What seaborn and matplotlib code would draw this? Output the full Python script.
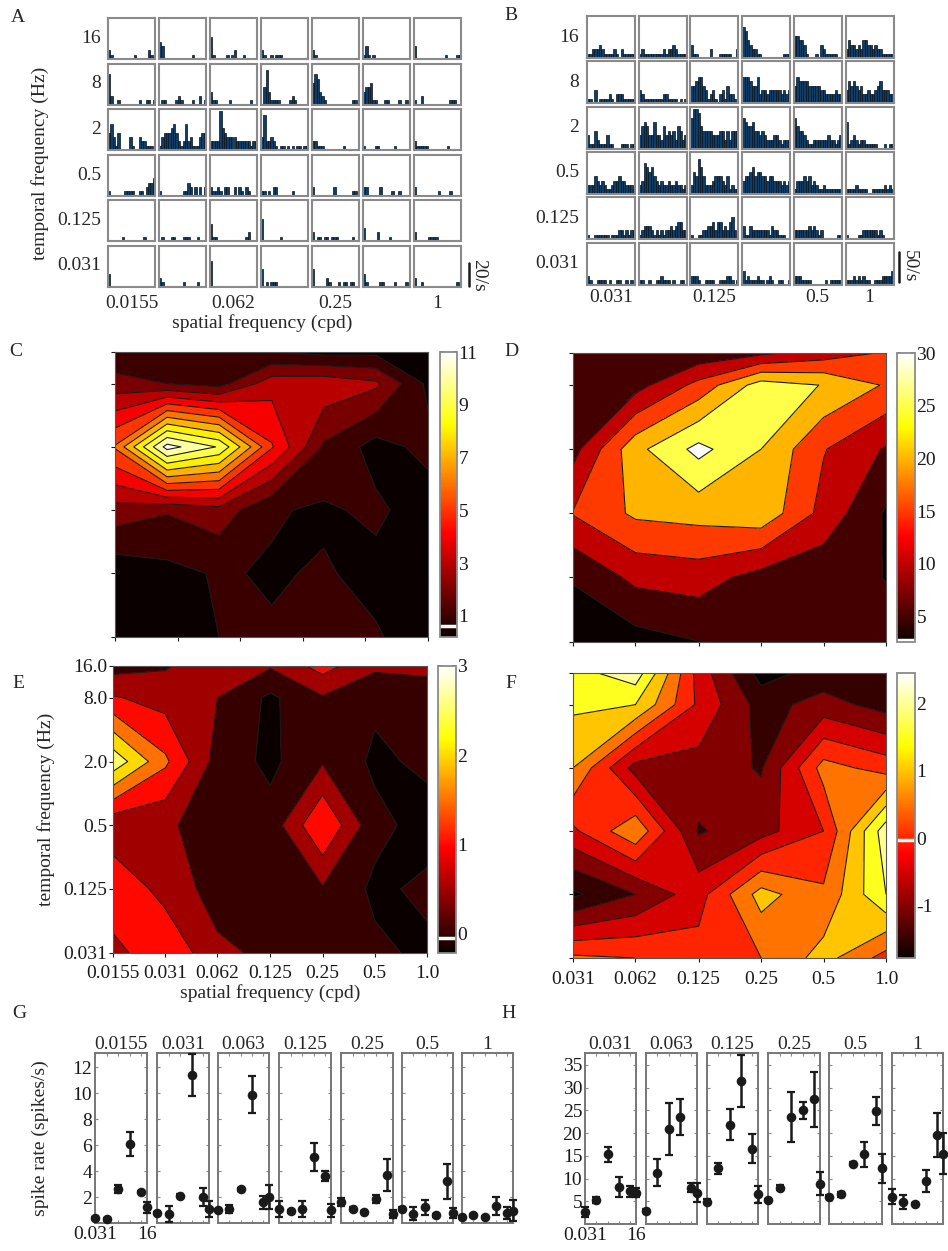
import numpy as np
import matplotlib
matplotlib.use("Agg")
import matplotlib.pyplot as plt
import seaborn as sns
from matplotlib.colors import Normalize
from matplotlib.cm import ScalarMappable
from matplotlib.ticker import MultipleLocator

sns.set_theme(style="white")
plt.rcParams["font.family"] = ["Liberation Serif", "DejaVu Serif"]
plt.rcParams["font.size"] = 14
plt.rcParams["axes.unicode_minus"] = False
plt.rcParams["contour.negative_linestyle"] = "solid"

# ---------------- data ----------------
TF = [0.031, 0.125, 0.5, 2, 8, 16]                 # temporal frequencies (Hz), ascending
TF_ROW_LABELS = ["16", "8", "2", "0.5", "0.125", "0.031"]   # rows top -> bottom
SF_A = [0.0155, 0.031, 0.062, 0.125, 0.25, 0.5, 1.0]
SF_B = [0.031, 0.062, 0.125, 0.25, 0.5, 1.0]
SF_A_LABELS = ["0.0155", "0.031", "0.062", "0.125", "0.25", "0.5", "1.0"]
SF_B_LABELS = ["0.031", "0.062", "0.125", "0.25", "0.5", "1.0"]
A_XLABELS = {0: "0.0155", 2: "0.062", 4: "0.25", 6: "1"}
B_XLABELS = {0: "0.031", 2: "0.125", 4: "0.5", 5: "1"}
G_TITLES = ["0.0155", "0.031", "0.063", "0.125", "0.25", "0.5", "1"]
H_TITLES = ["0.031", "0.063", "0.125", "0.25", "0.5", "1"]

# PSTH bin heights (digit units), rows = TF 16 -> 0.031, columns = SF
A_UNIT = 3.8   # spikes/s per digit
B_UNIT = 7.4
A_PSTH = [
    ["21000000000100000210", "43000000000000100000", "51000001012000100000", "21001011100000000000",
     "21000000000000000000", "13101000000000000000", "30000000000001000011"],
    ["72001000000001001101", "01100001210000100201", "31100000100000000100", "04831111000012100000",
     "57632100000000000110", "34451100011000010010", "10020000000000011100"],
    ["46314000031003221110", "13444564212623111344", "22229543333222222122", "38223210110101011011",
     "22111000000001000000", "10000110000001000000", "21111100000000100000"],
    ["10000001111001102334", "10000000001132020202", "21121022002021021000", "11010220000001000000",
     "20000000020000000110", "22000002000010010000", "20000000001000010000"],
    ["00000010000000010000", "01000110001110001000", "41100000000000012000", "50000000100000000000",
     "20110110111000000100", "30000020000100000000", "20000011110000000000"],
    ["30000000000000000000", "21000000001000001000", "60000000000000000000", "40101110000000000000",
     "40000021000101101100", "31000001100001000010", "20010000000000000010"],
]
B_PSTH = [
    ["11222321111210211111", "12111111112122321111", "31100000200011111002", "76432211000000000111",
     "55443100010321111100", "24332324433232211111"],
    ["11030111121022211111", "32111111112211110101", "44566431231023142210", "66654462332333332323",
     "46555544444332222322", "35454342232234533322"],
    ["31142111311000111011", "35653363325343425423", "79985444433344242444", "76556443432223321222",
     "75443211222222322123", "61232122111110001011"],
    ["22243232112334332221", "23765643232232232212", "25486422234443241211", "34456455443443332323",
     "13334342321121111111", "11112111100111112121"],
    ["10011111101112212122", "12333212121223234422", "10011223342442324520", "31132222222132211100",
     "22222232321200000011", "10000112222221210000"],
    ["21001111010011001010", "11001001121110100110", "22210011110011122101", "31211121101210011001",
     "22211110000001011111", "11121212110011122223"],
]

# mean spike rates (rows = SF, columns = TF ascending) and error half-widths
G_MEAN = [
    [0.38, 0.30, 2.6, 6.1, 2.4, 1.2],
    [0.77, 0.70, 2.1, 11.4, 2.0, 1.1],
    [1.0, 1.1, 2.6, 9.9, 1.6, 2.0],
    [1.1, 0.9, 1.1, 5.1, 3.6, 1.0],
    [1.6, 1.1, 0.85, 1.85, 3.7, 0.7],
    [1.1, 0.7, 1.2, 0.6, 3.2, 0.75],
    [0.45, 0.6, 0.46, 1.3, 0.77, 0.95],
]
G_ERR = [
    [0.1, 0.1, 0.3, 0.9, 0.1, 0.4],
    [0.1, 0.6, 0.1, 1.6, 0.7, 0.6],
    [0.1, 0.3, 0.1, 1.4, 0.5, 0.9],
    [0.6, 0.1, 0.6, 1.1, 0.4, 0.5],
    [0.3, 0.1, 0.1, 0.3, 1.2, 0.3],
    [0.1, 0.5, 0.6, 0.1, 1.35, 0.4],
    [0.1, 0.1, 0.1, 0.7, 0.5, 0.8],
]
H_MEAN = [
    [2.6, 5.3, 15.3, 8.2, 7.2, 6.9],
    [2.9, 11.3, 20.9, 23.5, 8.0, 6.9],
    [4.9, 12.3, 21.8, 31.5, 16.6, 6.5],
    [5.3, 8.0, 23.6, 25.0, 27.4, 8.9],
    [6.0, 6.5, 13.3, 15.3, 24.8, 12.3],
    [6.0, 4.9, 4.4, 9.5, 19.5, 15.5],
]
H_ERR = [
    [1.1, 0.6, 1.6, 2.2, 1.2, 1.0],
    [0.3, 2.9, 5.7, 3.9, 1.0, 2.1],
    [0.6, 1.2, 3.4, 5.7, 3.1, 1.8],
    [0.3, 0.5, 5.5, 1.9, 6.0, 2.6],
    [0.3, 0.5, 0.3, 2.7, 3.1, 3.2],
    [1.6, 1.5, 0.3, 2.4, 4.8, 4.5],
]
# E and F grids: rows = TF 16 -> 0.031, columns = SF ascending
E_GRID = [
    [0.3, 0.45, 0.8, 0.55, 1.2, 0.6, 0.6],
    [1.05, 0.8, 0.5, -0.1, 0.45, 0.1, 0.3],
    [2.85, 1.6, 0.3, -0.12, 0.45, -0.1, 0.1],
    [0.6, 0.6, 0.2, 0.2, 1.5, 0.15, -0.2],
    [1.45, 0.8, 0.3, 0.2, 0.45, -0.1, 0.1],
    [0.8, 1.45, 0.6, 0.4, 0.2, 0.1, -0.1],
]
F_GRID = [
    [1.8, 2.3, -0.2, -1.7, -1.3, -1.45],
    [1.6, 1.5, -0.1, -1.2, -0.8, -1.2],
    [1.0, -0.7, -0.7, -1.05, 0.7, 0.3],
    [-0.1, 0.9, -1.05, -0.7, 0.0, 2.3],
    [-1.6, -1.0, -0.2, 1.2, 0.6, 2.0],
    [0.6, 0.5, 0.2, 0.5, 1.2, 0.3],
]

# ---------------- figure ----------------
W, H = 948, 1251
fig = plt.figure(figsize=(W / 100, H / 100), dpi=100)


def px_axes(x0, y0, x1, y1):
    return fig.add_axes([x0 / W, 1 - y1 / H, (x1 - x0) / W, (y1 - y0) / H])


def ftext(x, y, s, **kw):
    fig.text(x / W, 1 - y / H, s, **kw)


BAR_FACE = "#0f3d66"
BAR_EDGE = "#05121f"
FRAME = "#8a8a8a"


def psth_cell(ax, s, unit):
    s = s.ljust(20, "0")[:20]
    h = np.array([int(c) for c in s], float) * unit
    sns.barplot(x=np.arange(len(h)), y=h, ax=ax, color=BAR_FACE, width=1.0,
                edgecolor=BAR_EDGE, linewidth=0.5, saturation=1)
    ax.set_xlim(-0.5, len(h) - 0.5)
    ax.set_ylim(0, 9.5 * unit)
    ax.set_xticks([])
    ax.set_yticks([])
    ax.set_xlabel("")
    ax.set_ylabel("")
    for sp in ax.spines.values():
        sp.set_color(FRAME)
        sp.set_linewidth(1.5)


def psth_grid(data, unit, x_start, dx, cw, y_start, dy, ch):
    axes = []
    for i, row in enumerate(data):
        arow = []
        for j, s in enumerate(row):
            x0 = x_start + j * dx
            y0 = y_start + i * dy
            ax = px_axes(x0, y0, x0 + cw, y0 + ch)
            psth_cell(ax, s, unit)
            arow.append(ax)
        axes.append(arow)
    return axes


# Panel A
A_x0, A_dx, A_cw, A_y0, A_dy, A_ch = 108, 51, 47, 18, 45.5, 41
axA = psth_grid(A_PSTH, A_UNIT, A_x0, A_dx, A_cw, A_y0, A_dy, A_ch)
for i, lab in enumerate(TF_ROW_LABELS):
    ftext(101, A_y0 + i * A_dy + A_ch / 2, lab, ha="right", va="center", fontsize=14)
for j, lab in A_XLABELS.items():
    ftext(A_x0 + j * A_dx + A_cw / 2, 304, lab, ha="center", va="center", fontsize=14)
ftext(262, 323, "spatial frequency (cpd)", ha="center", va="center", fontsize=14)
ftext(40, 163, "temporal frequency (Hz)", ha="center", va="center", rotation=90, fontsize=14)
last = axA[-1][-1]
last.plot([1.17, 1.17], [0.5, 20.5], transform=last.get_yaxis_transform(), color="k", lw=1.8, clip_on=False)
last.text(1.38, 10, "20/s", transform=last.get_yaxis_transform(), rotation=270,
          ha="center", va="center", fontsize=14)

# Panel B
B_x0, B_dx, B_cw, B_y0, B_dy, B_ch = 587, 51.7, 48, 16, 45.3, 42
axB = psth_grid(B_PSTH, B_UNIT, B_x0, B_dx, B_cw, B_y0, B_dy, B_ch)
for i, lab in enumerate(TF_ROW_LABELS):
    ftext(579, B_y0 + i * B_dy + B_ch / 2, lab, ha="right", va="center", fontsize=14)
for j, lab in B_XLABELS.items():
    ftext(B_x0 + j * B_dx + B_cw / 2, 298, lab, ha="center", va="center", fontsize=14)
last = axB[-1][-1]
last.plot([1.12, 1.12], [5, 55], transform=last.get_yaxis_transform(), color="k", lw=1.8, clip_on=False)
last.text(1.33, 30, "50/s", transform=last.get_yaxis_transform(), rotation=270,
          ha="center", va="center", fontsize=14)


# ---------------- contour panels ----------------
def contour_panel(ax, cax, sf, Z, vmin, vmax, levels, cb_ticks, cb_minor, white_at,
                  xticks, xticklabels, yticklabels):
    X = np.log2(sf)
    Y = np.log2(TF)
    cmap = plt.get_cmap("hot")
    norm = Normalize(vmin, vmax)
    cols = [cmap(norm(max(l, vmin))) for l in levels[:-1]]
    ax.contourf(X, Y, Z, levels=levels, colors=cols)
    ax.contour(X, Y, Z, levels=levels[1:-1], colors="k", linewidths=0.8, linestyles="solid")
    ax.set_xlim(X[0], X[-1])
    ax.set_ylim(Y[0], Y[-1])
    ax.set_xticks(xticks)
    ax.set_yticks(Y)
    ax.set_xticklabels(xticklabels if xticklabels else [""] * len(xticks), fontsize=14)
    ax.set_yticklabels(yticklabels if yticklabels else [""] * len(Y), fontsize=14)
    ax.tick_params(direction="out", length=3, width=0.8, pad=1, colors="k",
                   left=True, bottom=True)
    if xticklabels:
        ax.tick_params(axis="x", pad=6)
    for sp in ax.spines.values():
        sp.set_color("#555555")
        sp.set_linewidth(0.8)
    sm = ScalarMappable(norm=norm, cmap=cmap)
    cb = fig.colorbar(sm, cax=cax, ticks=cb_ticks)
    cb.outline.set_edgecolor(FRAME)
    cb.outline.set_linewidth(1.3)
    cax.yaxis.set_minor_locator(MultipleLocator(cb_minor))
    cax.tick_params(which="both", direction="in", left=True, right=True, colors="#555555",
                    labelcolor="k", labelsize=14, pad=1)
    cax.tick_params(which="major", length=3)
    cax.tick_params(which="minor", length=2)
    cax.axhline(white_at, color="white", lw=2.5)


Zc = np.array(G_MEAN).T
Zd = np.array(H_MEAN).T
Ze = np.array(E_GRID)[::-1]
Zf = np.array(F_GRID)[::-1]

axC = px_axes(115, 352, 428, 637)
caxC = px_axes(440, 352, 457, 637)
contour_panel(axC, caxC, SF_A, Zc, 0.2, 11, list(range(0, 12)) + [13], [1, 3, 5, 7, 9, 11], 1, 0.6,
              np.linspace(np.log2(SF_A[0]), 0, 6), None, None)

axD = px_axes(573, 353, 886, 642)
caxD = px_axes(897, 353, 915, 642)
contour_panel(axD, caxD, SF_B, Zd, 2.6, 30, [0, 5, 10, 15, 20, 25, 30, 40], [5, 10, 15, 20, 25, 30], 5, 2.8,
              np.log2(SF_B), None, None)

axE = px_axes(113, 666, 427, 953)
caxE = px_axes(438, 666, 456, 953)
contour_panel(axE, caxE, SF_A, Ze, -0.22, 3.0, [-1, 0, 0.5, 1, 1.5, 2, 2.5, 3, 4], [0, 1, 2, 3], 0.5, -0.05,
              np.log2(SF_A), SF_A_LABELS, ["0.031", "0.125", "0.5", "2.0", "8.0", "16.0"])
axE.set_xlabel("spatial frequency (cpd)", fontsize=14, labelpad=1)
axE.set_ylabel("temporal frequency (Hz)", fontsize=14, labelpad=6)

axF = px_axes(573, 673, 886, 958)
caxF = px_axes(897, 673, 915, 958)
contour_panel(axF, caxF, SF_B, Zf, -1.77, 2.45, [-3, -1.5, -1, -0.5, 0, 0.5, 1, 1.5, 2, 3], [-1, 0, 1, 2], 0.5, -0.02,
              np.log2(SF_B), SF_B_LABELS, None)


# ---------------- G / H ----------------
def rate_boxes(boxes, y0, y1, means, errs, titles, ylim, yticks):
    xs = np.log2(TF)
    for k, (x0, x1) in enumerate(boxes):
        ax = px_axes(x0, y0, x1, y1)
        ax.errorbar(xs, means[k], yerr=errs[k], fmt="none", ecolor="k", elinewidth=1.8,
                    capsize=3, capthick=1.6, clip_on=False, zorder=4)
        sns.scatterplot(x=xs, y=means[k], ax=ax, color="k", s=48, edgecolor="k",
                        linewidth=0, zorder=5, clip_on=False, legend=False)
        ax.set_xlim(xs[0], xs[-1])
        ax.set_ylim(*ylim)
        ax.set_xticks(xs)
        ax.set_yticks(yticks)
        if k == 0:
            ax.set_xticklabels(["0.031", "", "", "", "", "16"], fontsize=14)
            ax.set_yticklabels([str(t) for t in yticks], fontsize=14)
        else:
            ax.set_xticklabels([])
            ax.set_yticklabels([])
        ax.tick_params(direction="in", length=2.5, width=0.8, top=True, right=True, left=True,
                       bottom=True, colors="#888888", labelcolor="k", pad=2)
        ax.set_title(titles[k], fontsize=14, pad=3)
        for sp in ax.spines.values():
            sp.set_color("#777777")
            sp.set_linewidth(1.4)


G_BOXES = [(95, 147), (157, 209), (218, 269), (279, 331), (341, 393), (402, 453), (462, 513)]
H_BOXES = [(585, 636), (646, 697), (707, 758), (768, 820), (829, 882), (892, 943)]
rate_boxes(G_BOXES, 1053, 1223, G_MEAN, G_ERR, G_TITLES, (0, 13.1), [2, 4, 6, 8, 10, 12])
rate_boxes(H_BOXES, 1053, 1224, H_MEAN, H_ERR, H_TITLES, (0, 37.6), [5, 10, 15, 20, 25, 30, 35])
ftext(40, 1138, "spike rate (spikes/s)", ha="center", va="center", rotation=90, fontsize=14)

# panel letters
for lab, x, y in [("A", 18, 17), ("B", 511, 16), ("C", 16, 352), ("D", 511, 352),
                  ("E", 18, 684), ("F", 511, 683), ("G", 19, 1013), ("H", 509, 1013)]:
    ftext(x, y, lab, ha="center", va="center", fontsize=14)

fig.savefig("out.png", dpi=100)
